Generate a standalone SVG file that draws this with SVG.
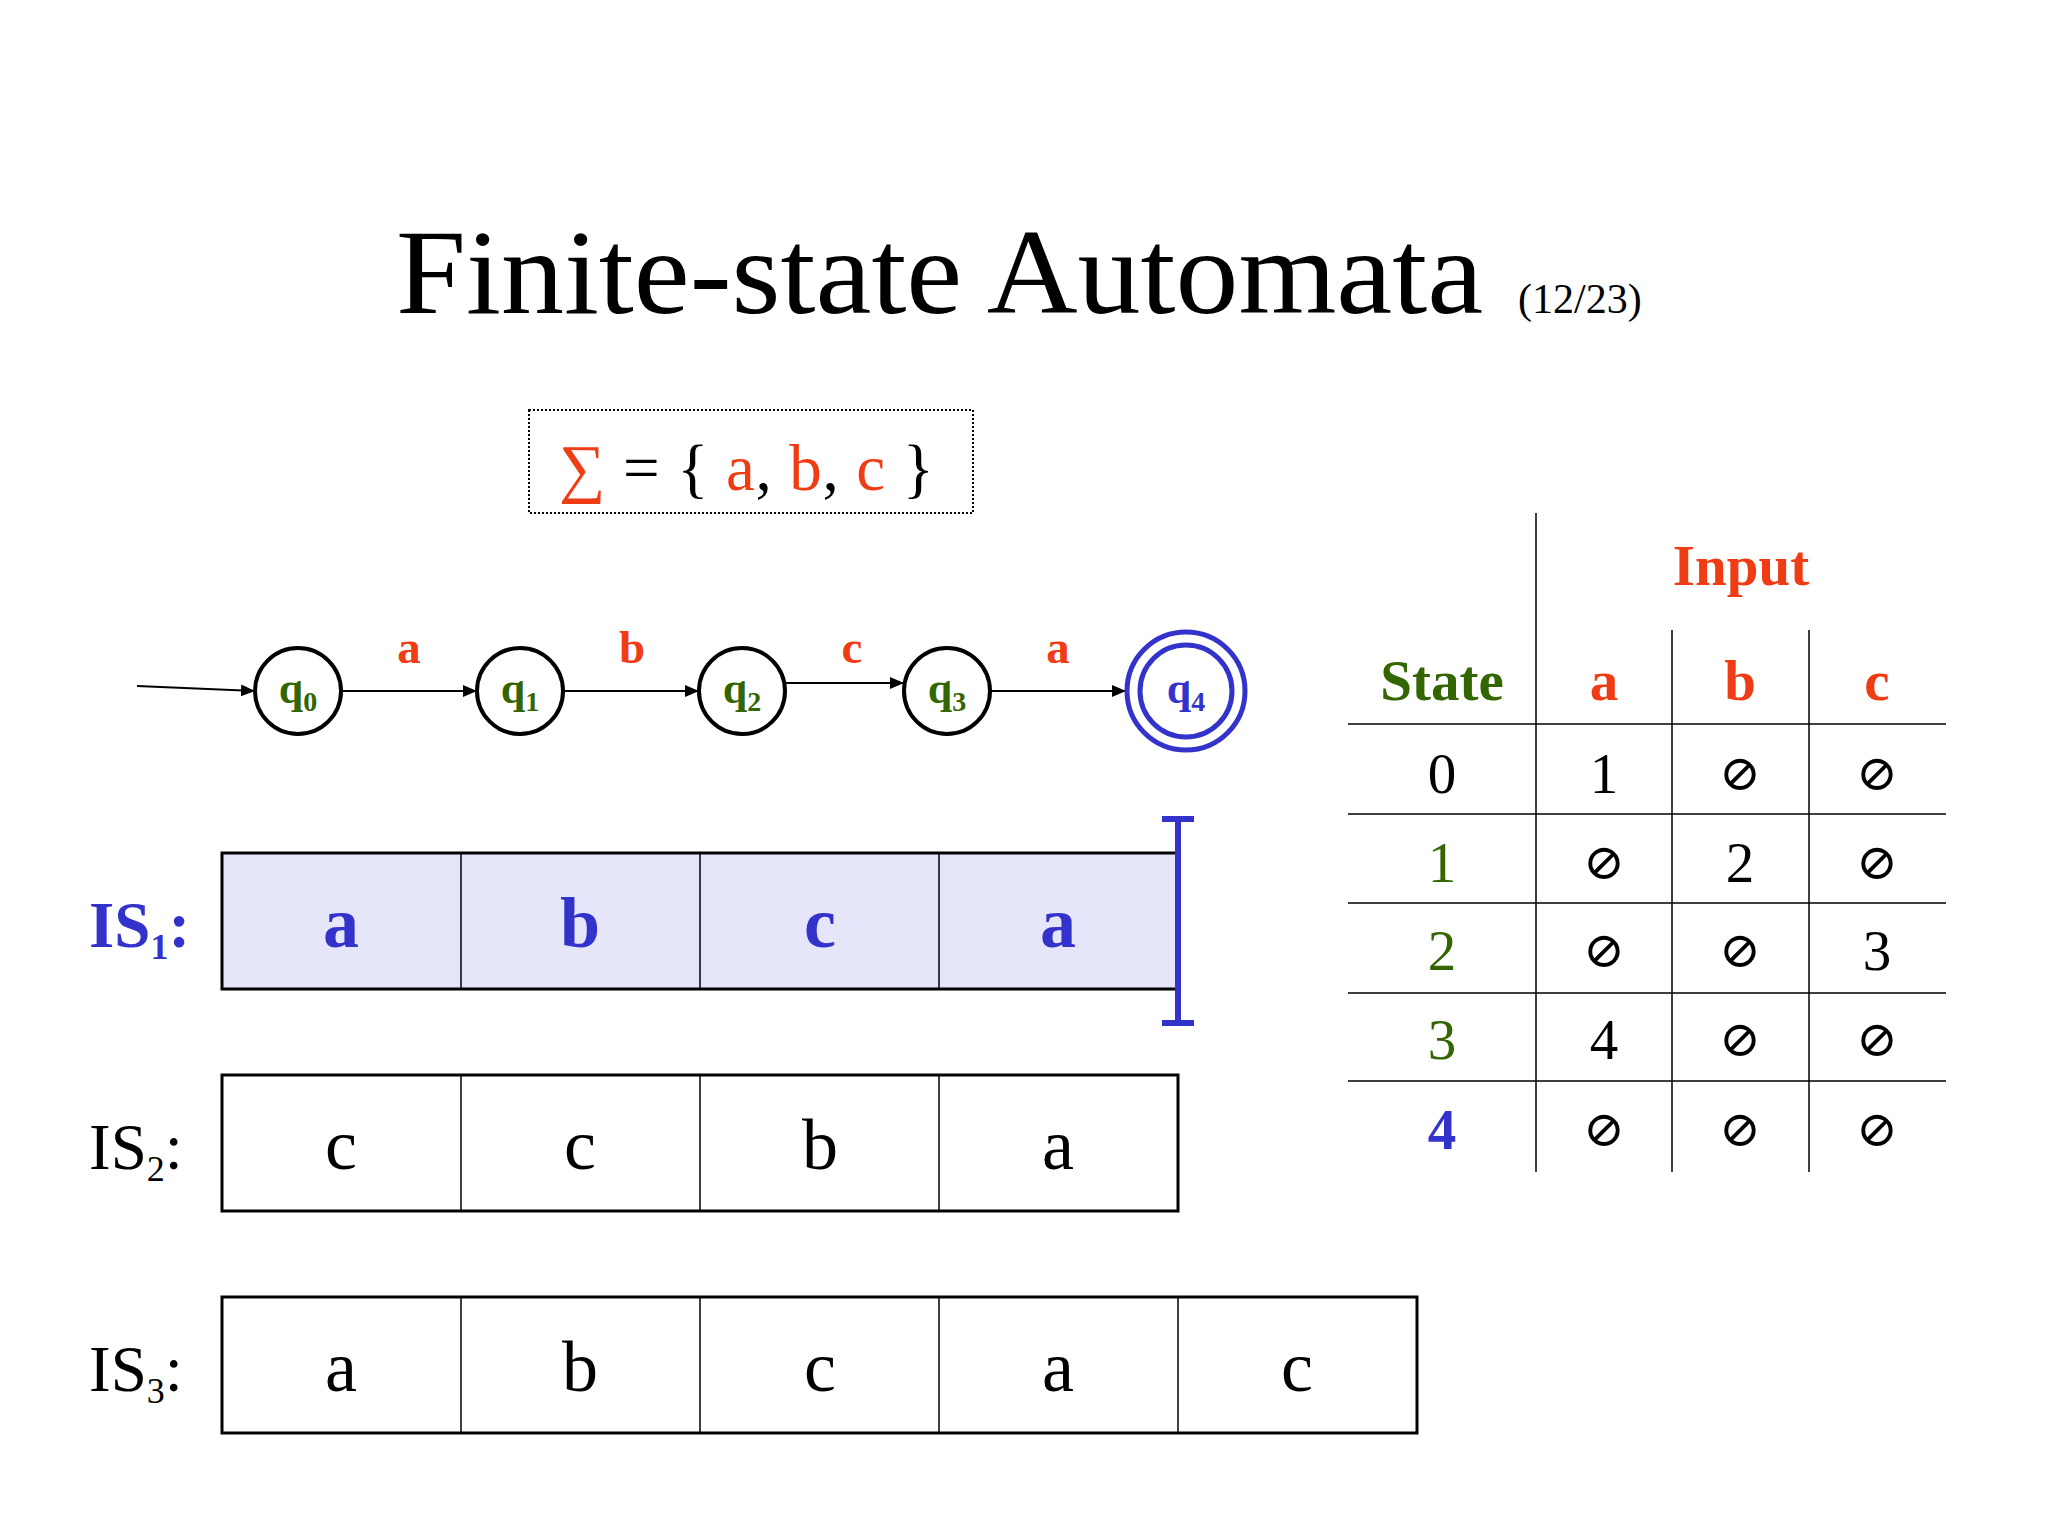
<svg xmlns="http://www.w3.org/2000/svg" width="2048" height="1536" viewBox="0 0 2048 1536">
<style>
text{font-family:"Liberation Serif","Times New Roman",serif}
.r{fill:#f03c14}.g{fill:#336600}.b{fill:#3333cc}.k{fill:#000}
.bold{font-weight:bold}
.st{fill:#fff;stroke:#000;stroke-width:4}
.edge{stroke:#000;stroke-width:2;fill:none;marker-end:url(#ah)}
.cell{font-size:72px;text-anchor:middle}
.tl{stroke:#000;stroke-width:1.5}
.tc{font-size:57px;text-anchor:middle}
.es{font-family:"Liberation Serif","DejaVu Serif",serif;font-size:50px}
.ql{font-size:44px;font-weight:bold;fill:#336600;text-anchor:middle}
</style>
<defs><marker id="ah" markerWidth="14" markerHeight="12" refX="14" refY="6" orient="auto" markerUnits="userSpaceOnUse"><path d="M0,0 L14,6 L0,12 Z" fill="#000"/></marker></defs>
<rect width="2048" height="1536" fill="#fff"/>
<text x="396" y="313" font-size="120" textLength="1087" lengthAdjust="spacingAndGlyphs">Finite-state Automata</text>
<text x="1518" y="313" font-size="42">(12/23)</text>
<g id="sigma">
<rect x="529" y="410" width="444" height="103" fill="none" stroke="#000" stroke-width="2" stroke-dasharray="2,2"/>
<text x="559" y="490" font-size="65" textLength="375"><tspan class="r">∑</tspan> = { <tspan class="r">a</tspan>, <tspan class="r">b</tspan>, <tspan class="r">c</tspan> }</text>
</g>
<g id="connectors">
<line class="edge" x1="137" y1="686" x2="255" y2="691"/>
<line class="edge" x1="342" y1="691" x2="477" y2="691"/>
<line class="edge" x1="564" y1="691" x2="699" y2="691"/>
<line class="edge" x1="786" y1="683" x2="904" y2="683"/>
<line class="edge" x1="991" y1="691" x2="1126" y2="691"/>
<text x="409" y="663" font-size="47" class="r bold" text-anchor="middle">a</text>
<text x="632" y="663" font-size="47" class="r bold" text-anchor="middle">b</text>
<text x="852" y="663" font-size="47" class="r bold" text-anchor="middle">c</text>
<text x="1058" y="663" font-size="47" class="r bold" text-anchor="middle">a</text>
</g>
<g id="q0"><circle class="st" cx="298" cy="691" r="43"/><text class="ql" x="298" y="703">q<tspan font-size="28" dy="8">0</tspan></text></g>
<g id="q1"><circle class="st" cx="520" cy="691" r="43"/><text class="ql" x="520" y="703">q<tspan font-size="28" dy="8">1</tspan></text></g>
<g id="q2"><circle class="st" cx="742" cy="691" r="43"/><text class="ql" x="742" y="703">q<tspan font-size="28" dy="8">2</tspan></text></g>
<g id="q3"><circle class="st" cx="947" cy="691" r="43"/><text class="ql" x="947" y="703">q<tspan font-size="28" dy="8">3</tspan></text></g>
<g id="q4"><circle cx="1186" cy="691" r="59" fill="#fff" stroke="#3333cc" stroke-width="5"/><circle cx="1186" cy="691" r="46" fill="none" stroke="#3333cc" stroke-width="5"/><text class="ql" x="1186" y="703" style="fill:#3333cc">q<tspan font-size="28" dy="8">4</tspan></text></g>
<g id="is1">
<text x="89" y="947" font-size="65" class="b bold">IS<tspan font-size="36" dy="12">1</tspan><tspan dy="-12">:</tspan></text>
<rect x="222" y="853" width="956" height="136" fill="#e6e6fa" stroke="#000" stroke-width="3"/>
<path d="M461,853V989M700,853V989M939,853V989" stroke="#000" stroke-width="1.5"/>
<path d="M1178,819V1023M1162,819H1194M1162,1023H1194" stroke="#3333cc" stroke-width="6" fill="none"/>
<g class="b bold"><text class="cell" x="341" y="947">a</text><text class="cell" x="580" y="947">b</text><text class="cell" x="820" y="947">c</text><text class="cell" x="1058" y="947">a</text></g>
</g>
<g id="is2">
<text x="89" y="1169" font-size="65">IS<tspan font-size="36" dy="12">2</tspan><tspan dy="-12">:</tspan></text>
<rect x="222" y="1075" width="956" height="136" fill="none" stroke="#000" stroke-width="3"/>
<path d="M461,1075V1211M700,1075V1211M939,1075V1211" stroke="#000" stroke-width="1.5"/>
<text class="cell" x="341" y="1169">c</text><text class="cell" x="580" y="1169">c</text><text class="cell" x="820" y="1169">b</text><text class="cell" x="1058" y="1169">a</text>
</g>
<g id="is3">
<text x="89" y="1391" font-size="65">IS<tspan font-size="36" dy="12">3</tspan><tspan dy="-12">:</tspan></text>
<rect x="222" y="1297" width="1195" height="136" fill="none" stroke="#000" stroke-width="3"/>
<path d="M461,1297V1433M700,1297V1433M939,1297V1433M1178,1297V1433" stroke="#000" stroke-width="1.5"/>
<text class="cell" x="341" y="1391">a</text><text class="cell" x="580" y="1391">b</text><text class="cell" x="820" y="1391">c</text><text class="cell" x="1058" y="1391">a</text><text class="cell" x="1297" y="1391">c</text>
</g>
<g id="table">
<path class="tl" d="M1536,513V1172M1672,630V1172M1809,630V1172M1348,724H1946M1348,814H1946M1348,903H1946M1348,993H1946M1348,1081H1946"/>
<text class="tc r bold" x="1741" y="585" font-size="60">Input</text>
<text class="tc g bold" x="1442" y="700">State</text>
<text class="tc r bold" x="1604" y="700">a</text><text class="tc r bold" x="1740" y="700">b</text><text class="tc r bold" x="1877" y="700">c</text>
<text class="tc" x="1442" y="793">0</text><text class="tc" x="1604" y="793">1</text><text class="tc es" x="1740" y="790">⊘</text><text class="tc es" x="1877" y="790">⊘</text>
<text class="tc g" x="1442" y="882">1</text><text class="tc es" x="1604" y="879">⊘</text><text class="tc" x="1740" y="882">2</text><text class="tc es" x="1877" y="879">⊘</text>
<text class="tc g" x="1442" y="970">2</text><text class="tc es" x="1604" y="967">⊘</text><text class="tc es" x="1740" y="967">⊘</text><text class="tc" x="1877" y="970">3</text>
<text class="tc g" x="1442" y="1059">3</text><text class="tc" x="1604" y="1059">4</text><text class="tc es" x="1740" y="1056">⊘</text><text class="tc es" x="1877" y="1056">⊘</text>
<text class="tc b bold" x="1442" y="1149">4</text><text class="tc es" x="1604" y="1146">⊘</text><text class="tc es" x="1740" y="1146">⊘</text><text class="tc es" x="1877" y="1146">⊘</text>
</g>
</svg>
